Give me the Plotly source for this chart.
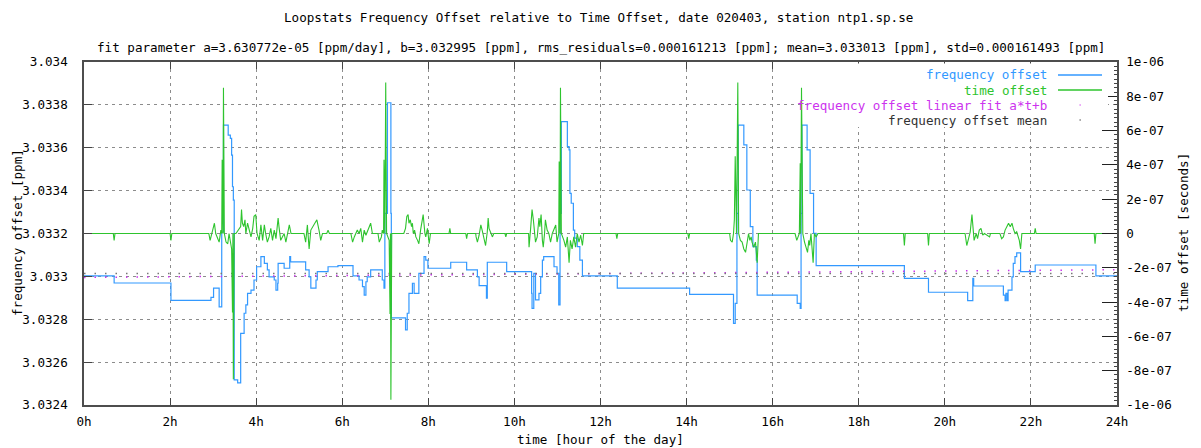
import plotly.graph_objects as go

# ---------------- data ----------------
hours_freq = [0.00, 0.70, 2.02, 2.95, 3.01, 3.14, 3.20, 3.24, 3.35, 3.40, 3.43, 3.45, 3.47,
              3.49, 3.57, 3.64, 3.72, 3.76, 3.80, 3.88, 3.95, 4.01, 4.11, 4.19, 4.26, 4.30,
              4.42, 4.46, 4.50, 4.51, 4.65, 4.78, 4.80, 5.15, 5.23, 5.27, 5.39, 5.42, 5.67,
              5.90, 6.25, 6.39, 6.47, 6.51, 6.55, 6.58, 6.66, 6.93, 6.97, 6.99, 7.05, 7.13,
              7.14, 7.47, 7.51, 7.55, 7.63, 7.67, 7.78, 7.90, 7.94, 7.99, 8.52, 8.89, 9.14,
              9.18, 9.35, 9.37, 9.82, 10.40, 10.41, 10.45, 10.49, 10.57, 10.61, 10.65, 10.68,
              10.92, 10.99, 11.03, 11.06, 11.09, 11.23, 11.27, 11.29, 11.32, 11.37, 11.40,
              11.46, 11.52, 11.58, 12.39, 14.07, 15.09, 15.13, 15.17, 15.20, 15.33, 15.40,
              15.48, 15.54, 15.62, 15.64, 16.57, 16.64, 16.66, 16.68, 16.80, 16.87, 16.95,
              17.01, 19.06, 19.62, 20.53, 20.65, 20.67, 21.36, 21.40, 21.42, 21.45, 21.47,
              21.56, 21.59, 21.63, 21.67, 21.76, 22.10, 23.51, 24.00]
freq_offset_ppm = [3.033002, 3.032969, 3.032888, 3.032902, 3.032945, 3.032858, 3.033207,
                   3.033706, 3.033659, 3.033644, 3.033566, 3.033418, 3.033356, 3.032517,
                   3.032503, 3.032734, 3.032828, 3.032867, 3.032921, 3.032936, 3.032983,
                   3.033045, 3.033092, 3.033061, 3.033030, 3.032998, 3.032983, 3.032936,
                   3.032968, 3.033061, 3.033038, 3.033092, 3.033068, 3.033030, 3.032998,
                   3.032945, 3.032983, 3.033022, 3.033045, 3.033050, 3.033002, 3.032983,
                   3.032952, 3.032913, 3.032975, 3.032998, 3.033030, 3.032983, 3.032945,
                   3.033294, 3.033810, 3.033294, 3.032806, 3.032750, 3.032828, 3.032921,
                   3.032968, 3.032921, 3.033014, 3.033092, 3.033076, 3.033038, 3.033066,
                   3.033030, 3.032998, 3.032957, 3.032898, 3.033066, 3.033022, 3.032921,
                   3.032851, 3.033014, 3.032890, 3.032921, 3.032998, 3.033076, 3.033092,
                   3.033045, 3.033014, 3.032867, 3.033294, 3.033722, 3.033605, 3.033590,
                   3.033387, 3.033341, 3.033216, 3.033178, 3.033139, 3.033076, 3.033002,
                   3.032945, 3.032916, 3.032781, 3.032874, 3.033294, 3.033706, 3.033613,
                   3.033403, 3.033232, 3.033139, 3.033076, 3.032913, 3.032874, 3.032851,
                   3.033294, 3.033706, 3.033590, 3.033387, 3.033201, 3.033050, 3.032991,
                   3.032926, 3.032887, 3.032991, 3.032955, 3.032913, 3.032887, 3.032921,
                   3.032887, 3.032936, 3.032998, 3.033061, 3.033092, 3.033110, 3.033022,
                   3.033053, 3.033002, 3.033002]

hours_time = [0.00, 0.68, 0.70, 0.72, 2.00, 2.02, 2.04, 2.90, 2.93, 2.99, 3.03, 3.06, 3.14,
              3.18, 3.20, 3.21, 3.23, 3.24, 3.26, 3.30, 3.34, 3.37, 3.43, 3.45, 3.46, 3.47,
              3.49, 3.53, 3.64, 3.66, 3.68, 3.71, 3.74, 3.76, 3.80, 3.84, 3.88, 3.92, 3.95,
              3.99, 4.02, 4.07, 4.11, 4.15, 4.19, 4.22, 4.26, 4.30, 4.34, 4.38, 4.42, 4.46,
              4.51, 4.53, 4.57, 4.65, 4.69, 4.77, 4.81, 5.11, 5.15, 5.19, 5.23, 5.27, 5.35,
              5.41, 5.46, 5.50, 5.54, 5.64, 5.67, 5.70, 6.20, 6.24, 6.28, 6.35, 6.39, 6.43,
              6.47, 6.51, 6.55, 6.62, 6.66, 6.70, 6.83, 6.86, 6.91, 6.93, 6.96, 6.97, 6.99,
              7.01, 7.03, 7.09, 7.11, 7.12, 7.13, 7.15, 7.43, 7.47, 7.50, 7.53, 7.55, 7.58,
              7.61, 7.63, 7.65, 7.68, 7.71, 7.75, 7.78, 7.82, 7.86, 7.88, 7.92, 7.94, 7.98,
              8.02, 8.05, 8.48, 8.50, 8.52, 8.87, 8.89, 8.91, 9.10, 9.11, 9.14, 9.18, 9.22,
              9.25, 9.29, 9.33, 9.37, 9.39, 9.41, 9.45, 9.49, 9.52, 9.78, 9.80, 9.82, 10.33,
              10.34, 10.38, 10.41, 10.44, 10.47, 10.49, 10.53, 10.57, 10.59, 10.62, 10.65,
              10.67, 10.70, 10.72, 10.76, 10.80, 10.84, 10.88, 10.96, 10.99, 11.03, 11.04,
              11.06, 11.07, 11.09, 11.15, 11.19, 11.23, 11.27, 11.30, 11.34, 11.38, 11.42,
              11.46, 11.50, 11.54, 11.58, 11.61, 12.36, 12.38, 12.40, 14.03, 14.05, 14.07,
              15.00, 15.02, 15.06, 15.09, 15.11, 15.13, 15.16, 15.19, 15.21, 15.25, 15.29,
              15.33, 15.37, 15.40, 15.44, 15.47, 15.50, 15.52, 15.56, 15.60, 15.64, 15.67,
              16.52, 16.56, 16.62, 16.64, 16.65, 16.67, 16.70, 16.74, 16.78, 16.81, 16.84,
              16.86, 16.89, 16.91, 16.94, 16.97, 17.01, 17.05, 19.04, 19.06, 19.08, 19.60,
              19.62, 19.64, 20.47, 20.51, 20.55, 20.59, 20.63, 20.65, 20.68, 20.73, 20.76,
              20.80, 20.84, 20.88, 20.92, 21.04, 21.06, 21.28, 21.32, 21.36, 21.40, 21.44,
              21.48, 21.52, 21.56, 21.59, 21.63, 21.67, 21.71, 21.73, 21.76, 21.79, 22.08,
              22.10, 22.12, 23.47, 23.49, 23.51, 24.00]
time_offset_s = [0, 0, -0.4e-7, 0, 0, -0.4e-7, 0, 0, -0.4e-7, 0.3e-7, 0.6e-7, 0, -0.5e-7,
                 0.2e-7, 0, 4.3e-7, 0, 8.5e-7, 0, -0.5e-7, -0.6e-7, 0, -0.9e-7, -4.6e-7, 0,
                 -8.5e-7, 0, 0, 0.4e-7, 1.4e-7, 0.6e-7, 0.4e-7, 0.8e-7, 0, 0.6e-7, 0.2e-7,
                 -0.2e-7, 0.3e-7, 1.0e-7, 1.1e-7, 0, -0.4e-7, 0.5e-7, -0.4e-7, 0.5e-7, 0,
                 -0.5e-7, -0.2e-7, 0.3e-7, -0.4e-7, 0.2e-7, -0.3e-7, 0.9e-7, 0.4e-7, -0.4e-7,
                 0, -0.5e-7, 0.5e-7, 0, 0, -0.5e-7, 0.5e-7, -0.9e-7, 0.2e-7, 0.5e-7, 0.8e-7,
                 0.2e-7, -0.4e-7, 0, 0, 0.2e-7, 0, 0, -0.5e-7, -0.2e-7, 0.2e-7, 0, 0.3e-7,
                 -0.5e-7, 0.2e-7, -0.1e-7, 0.4e-7, 0.6e-7, 0, 0, -0.5e-7, -0.2e-7, 0.2e-7, 0,
                 4.3e-7, 0, 8.8e-7, 0, -0.4e-7, -4.7e-7, 0, -9.7e-7, 0, 0, 0.3e-7, 1.0e-7,
                 1.1e-7, 0.6e-7, 0.8e-7, 0.4e-7, 0.6e-7, 0, 0.2e-7, -0.2e-7, -0.4e-7, -0.6e-7,
                 0.2e-7, 1.0e-7, 1.1e-7, 0, -0.2e-7, 0.3e-7, -0.6e-7, 0, 0, 0.3e-7, 0, 0,
                 -0.3e-7, 0, 0, -0.2e-7, -0.5e-7, -0.1e-7, 0.5e-7, 0.2e-7, -0.2e-7, -0.7e-7,
                 0.1e-7, 0.9e-7, 0.3e-7, 0, -0.2e-7, 0, 0, -0.2e-7, 0, 0, -0.8e-7, 0.4e-7,
                 1.4e-7, 0.8e-7, 0, -0.5e-7, -0.2e-7, 0.9e-7, 0.4e-7, 1.1e-7, -0.4e-7,
                 -0.8e-7, 0, 0.8e-7, 0.2e-7, 0, -0.5e-7, 0, 0.5e-7, -0.5e-7, 0, 4.2e-7, 0,
                 8.5e-7, 0, -0.4e-7, -0.8e-7, -0.2e-7, -1.7e-7, -0.4e-7, -0.9e-7, -0.2e-7,
                 -0.8e-7, 0, -0.5e-7, -0.1e-7, -0.7e-7, 0, 0, -0.3e-7, 0, 0, -0.3e-7, 0, 0,
                 -0.4e-7, -0.5e-7, 0, 0.8e-7, 4.5e-7, 0, 8.8e-7, 0, -0.4e-7, -0.5e-7, -0.9e-7,
                 -1.1e-7, -0.5e-7, 0, -0.4e-7, -0.2e-7, -0.5e-7, -0.8e-7, -0.5e-7, -1.7e-7, 0,
                 0, -0.4e-7, 0, 4.1e-7, 0, 8.5e-7, 0, -0.5e-7, -0.8e-7, -1.1e-7, -0.4e-7,
                 -0.7e-7, 0, -0.8e-7, -1.7e-7, 0, -0.2e-7, 0, 0, -0.7e-7, 0, 0, -0.7e-7, 0, 0,
                 -0.7e-7, -0.3e-7, 0.1e-7, 1.1e-7, 0.4e-7, -0.4e-7, 0, -0.3e-7, 0.2e-7,
                 0.3e-7, -0.1e-7, 0, -0.2e-7, 0, 0, -0.3e-7, -0.2e-7, 0.2e-7, 0.4e-7, 0.6e-7,
                 0.4e-7, 0.6e-7, 0.3e-7, 0, 0.1e-7, -0.2e-7, -0.4e-7, -0.9e-7, 0, 0, 0.3e-7,
                 0, 0, -0.6e-7, 0, 0]

fit_hours = [0, 24]
fit_ppm = [3.032995, 3.033031]          # a*t+b, a=3.630772e-05 ppm/day, b=3.032995
mean_hours = [0, 24]
mean_ppm = [3.033013, 3.033013]

x_tick_vals = [0, 2, 4, 6, 8, 10, 12, 14, 16, 18, 20, 22, 24]
x_tick_text = ["0h", "2h", "4h", "6h", "8h", "10h", "12h", "14h", "16h", "18h", "20h", "22h", "24h"]
y_tick_vals = [3.0324, 3.0326, 3.0328, 3.0330, 3.0332, 3.0334, 3.0336, 3.0338, 3.0340]
y_tick_text = ["3.0324", "3.0326", "3.0328", "3.033", "3.0332", "3.0334", "3.0336", "3.0338", "3.034"]
y2_tick_vals = [-1e-6, -8e-7, -6e-7, -4e-7, -2e-7, 0, 2e-7, 4e-7, 6e-7, 8e-7, 1e-6]
y2_tick_text = ["-1e-06", "-8e-07", "-6e-07", "-4e-07", "-2e-07", "0",
                "2e-07", "4e-07", "6e-07", "8e-07", "1e-06"]

legend_labels = ["frequency offset", "time offset",
                 "frequency offset linear fit a*t+b", "frequency offset mean"]

title_text = "Loopstats Frequency Offset relative to Time Offset, date 020403, station ntp1.sp.se"
subtitle_text = ("fit parameter a=3.630772e-05 [ppm/day], b=3.032995 [ppm], "
                 "rms_residuals=0.000161213 [ppm]; mean=3.033013 [ppm], std=0.000161493 [ppm]")

# ---------------- style ----------------
BLUE = "#3399ff"
GREEN = "#2ec42e"
MAGENTA = "#cc33ee"
FONT = "DejaVu Sans Mono"
FS = 12.6

fig = go.Figure()
fig.add_trace(go.Scatter(x=hours_freq, y=freq_offset_ppm, mode="lines", line_shape="hv",
                         line=dict(color=BLUE, width=1.2), yaxis="y", showlegend=False))
fig.add_trace(go.Scatter(x=hours_time, y=time_offset_s, mode="lines",
                         line=dict(color=GREEN, width=1.1), yaxis="y2", showlegend=False))
fig.add_trace(go.Scatter(x=fit_hours, y=fit_ppm, mode="lines",
                         line=dict(color=MAGENTA, width=1.5, dash="1.5px,9px"),
                         yaxis="y", showlegend=False))
fig.add_trace(go.Scatter(x=mean_hours, y=mean_ppm, mode="lines",
                         line=dict(color="#777777", width=1.5, dash="1.5px,9px"),
                         yaxis="y", showlegend=False))

# plot area: x 84..1117, y 62..405
L, R, T, B = 84, 1117, 62, 405
W, H = 1201, 448
PW, PH = R - L, B - T


def px(xp):
    return (xp - L) / PW


def py(yp):
    return (B - yp) / PH


# opaque key box (hides the grid behind the key; placed clear of the data)
shapes = [dict(type="rect", xref="paper", yref="paper", x0=px(808), x1=px(1108),
               y0=py(127), y1=py(63.5), fillcolor="white", line=dict(width=0), layer="above")]
annotations = []
row_y = [75, 90, 105, 120]
row_colors = [BLUE, GREEN, MAGENTA, "#333333"]
for i, lab in enumerate(legend_labels):
    annotations.append(dict(text=lab, x=px(1049), y=py(row_y[i]), xref="paper", yref="paper",
                            xanchor="right", yanchor="middle", showarrow=False,
                            font=dict(family=FONT, size=FS, color=row_colors[i])))
for i in range(2):
    shapes.append(dict(type="line", xref="paper", yref="paper", x0=px(1058), x1=px(1102),
                       y0=py(row_y[i]), y1=py(row_y[i]),
                       line=dict(color=row_colors[i], width=1.5), layer="above"))
for i in range(2, 4):
    shapes.append(dict(type="rect", xref="paper", yref="paper", x0=px(1079.5), x1=px(1080.8),
                       y0=py(row_y[i] + 0.6), y1=py(row_y[i] - 0.6),
                       fillcolor=row_colors[i], line=dict(width=0), layer="above"))

annotations.append(dict(text=title_text, x=px(598), y=py(17), xref="paper", yref="paper",
                        xanchor="center", yanchor="middle", showarrow=False,
                        font=dict(family=FONT, size=FS, color="#000")))
annotations.append(dict(text=subtitle_text, x=0.5, y=py(47), xref="paper", yref="paper",
                        xanchor="center", yanchor="middle", showarrow=False,
                        font=dict(family=FONT, size=FS, color="#000")))
annotations.append(dict(text="time [hour of the day]", x=0.5, y=py(440), xref="paper", yref="paper",
                        xanchor="center", yanchor="middle", showarrow=False,
                        font=dict(family=FONT, size=FS, color="#000")))
annotations.append(dict(text="frequency offset [ppm]", x=px(18), y=py(233), xref="paper",
                        yref="paper", xanchor="center", yanchor="middle", showarrow=False,
                        textangle=-90, font=dict(family=FONT, size=FS, color="#000")))
annotations.append(dict(text="time offset [seconds]", x=px(1184), y=py(233), xref="paper",
                        yref="paper", xanchor="center", yanchor="middle", showarrow=False,
                        textangle=-90, font=dict(family=FONT, size=FS, color="#000")))

grid = dict(showgrid=True, gridcolor="#8c8c8c", gridwidth=1, griddash="3px,4px")
fig.update_layout(
    width=W, height=H,
    margin=dict(l=L, r=W - R, t=T, b=H - B, autoexpand=False),
    paper_bgcolor="white", plot_bgcolor="white",
    font=dict(family=FONT, size=FS, color="#000"),
    showlegend=False,
    xaxis=dict(range=[0, 24], tickvals=x_tick_vals, ticktext=x_tick_text,
               ticks="inside", ticklen=7, tickcolor="#444", tickwidth=1,
               showline=True, linecolor="#4d4d4d", linewidth=1.5, mirror="ticks",
               zeroline=False, ticklabelstandoff=4, **grid),
    yaxis=dict(range=[3.0324, 3.0340], tickvals=y_tick_vals, ticktext=y_tick_text,
               ticks="inside", ticklen=8, tickcolor="#444", tickwidth=1,
               showline=True, linecolor="#4d4d4d", linewidth=1.5, mirror=False,
               zeroline=False, ticklabelstandoff=12, **grid),
    yaxis2=dict(range=[-1e-6, 1e-6], tickvals=y2_tick_vals, ticktext=y2_tick_text,
                overlaying="y", side="right", anchor="x",
                ticks="inside", ticklen=15, tickcolor="#222", tickwidth=1.3,
                showline=True, linecolor="#4d4d4d", linewidth=1.5,
                showgrid=False, zeroline=False, ticklabelstandoff=5,
                minor=dict(ticks="inside", ticklen=3, dtick=2.5e-8, tickcolor="#444",
                           showgrid=False)),
    shapes=shapes,
    annotations=annotations,
)

fig.write_html("out.html", config={"displayModeBar": False},
               post_script="document.body.style.margin='0px';")
